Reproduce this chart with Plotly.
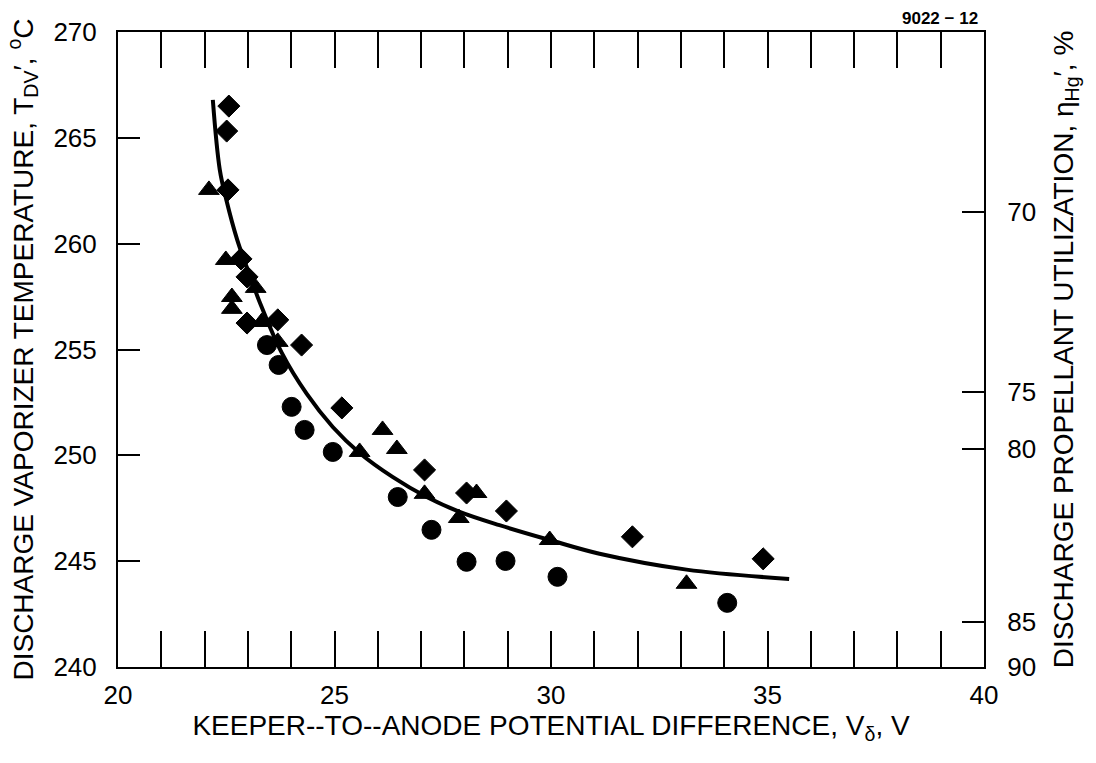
import plotly.graph_objects as go

# ---- data ----
diamond_x = [22.56, 22.51, 22.54, 22.84, 22.98, 22.98, 23.69, 24.24, 25.17, 27.08, 28.05, 28.97, 31.88, 34.90]
diamond_y = [266.50, 265.32, 262.54, 259.28, 258.43, 256.25, 256.40, 255.21, 252.24, 249.31, 248.22, 247.37, 246.15, 245.11]

triangle_x = [22.10, 22.49, 23.18, 22.63, 22.63, 23.32, 23.69, 26.11, 26.44, 25.58, 27.08, 28.28, 27.87, 29.97, 33.13]
triangle_y = [262.54, 259.23, 257.91, 257.48, 256.92, 256.30, 255.36, 251.20, 250.30, 250.16, 248.18, 248.22, 247.04, 246.00, 243.93]

circle_x = [23.44, 23.71, 24.01, 24.31, 24.96, 26.46, 27.24, 28.05, 28.95, 30.15, 34.07]
circle_y = [255.21, 254.27, 252.29, 251.20, 250.16, 248.03, 246.48, 244.97, 245.01, 244.26, 243.03]

fit_x = [22.19, 22.35, 22.51, 22.75, 22.98, 23.28, 23.78, 24.36, 24.96, 25.58, 26.34, 27.13,
         27.89, 28.81, 29.97, 31.12, 33.13, 35.50]
fit_y = [266.79, 263.50, 262.00, 260.20, 258.85, 257.20, 254.85, 252.90, 251.34, 250.11, 248.98,
         248.03, 247.33, 246.70, 246.00, 245.35, 244.60, 244.16]

# right-axis (propellant utilization) labels and their positions on the temperature scale
util_labels = ["70", "75", "80", "85", "90"]
util_pos = [261.5, 253.0, 250.3, 242.13, 240.0]

FONT = "Liberation Sans, Arial, Helvetica, sans-serif"
TICK_SIZE = 26
TITLE_SIZE = 28

fig = go.Figure()

fig.add_trace(go.Scatter(x=fit_x, y=fit_y, mode="lines",
                         line=dict(color="black", width=4, shape="spline", smoothing=1.0),
                         hoverinfo="skip", showlegend=False))
fig.add_trace(go.Scatter(x=diamond_x, y=diamond_y, mode="markers",
                         marker=dict(symbol="diamond", size=17, color="black", line=dict(color="black", width=1)),
                         showlegend=False))
fig.add_trace(go.Scatter(x=triangle_x, y=triangle_y, mode="markers",
                         marker=dict(symbol="triangle-up", size=18, color="black", line=dict(color="black", width=1)),
                         showlegend=False))
fig.add_trace(go.Scatter(x=circle_x, y=circle_y, mode="markers",
                         marker=dict(symbol="circle", size=19, color="black", line=dict(color="black", width=1)),
                         showlegend=False))
# anchor trace for the right axis
fig.add_trace(go.Scatter(x=[None], y=[None], yaxis="y2", mode="markers", showlegend=False, hoverinfo="skip"))

fig.update_layout(
    width=1096, height=763,
    margin=dict(l=118, r=112, t=32, b=96),
    paper_bgcolor="white", plot_bgcolor="white",
    font=dict(family=FONT, size=TICK_SIZE, color="black"),
    xaxis=dict(
        range=[20, 40], tickvals=[20, 25, 30, 35, 40], ticks="inside", ticklen=36, tickwidth=2,
        minor=dict(dtick=1, ticks="inside", ticklen=23, tickwidth=2, tickcolor="black"),
        showline=True, linecolor="black", linewidth=2, mirror="allticks", showgrid=False, zeroline=False,
        tickcolor="black", ticklabelstandoff=4, tickfont=dict(size=TICK_SIZE),
        title=dict(text="KEEPER--TO--ANODE POTENTIAL DIFFERENCE, V<sub>δ</sub>, V",
                   font=dict(size=TITLE_SIZE), standoff=4),
    ),
    yaxis=dict(
        range=[240, 270], tickvals=[240, 245, 250, 255, 260, 265, 270], ticks="inside", ticklen=22, tickwidth=2,
        showline=True, linecolor="black", linewidth=2, showgrid=False, zeroline=False, tickcolor="black",
        ticklabelstandoff=14, tickfont=dict(size=TICK_SIZE),
        title=dict(text="DISCHARGE VAPORIZER TEMPERATURE, T<sub>DV</sub>′, <sup>o</sup>C",
                   font=dict(size=TITLE_SIZE), standoff=12),
    ),
    yaxis2=dict(
        overlaying="y", side="right", range=[240, 270], tickvals=util_pos, ticktext=util_labels,
        ticks="inside", ticklen=22, tickwidth=2, tickcolor="black",
        showline=True, linecolor="black", linewidth=2, showgrid=False, zeroline=False,
        ticklabelstandoff=16, tickfont=dict(size=TICK_SIZE),
        title=dict(text="DISCHARGE PROPELLANT UTILIZATION, η<sub>Hg</sub>′, %",
                   font=dict(size=TITLE_SIZE), standoff=18),
    ),
    annotations=[dict(text="<b>9022 − 12</b>", xref="paper", yref="paper", x=0.949, y=1.022,
                      showarrow=False, font=dict(size=17, family=FONT), xanchor="center", yanchor="middle")],
)

fig.write_html("out.html")
